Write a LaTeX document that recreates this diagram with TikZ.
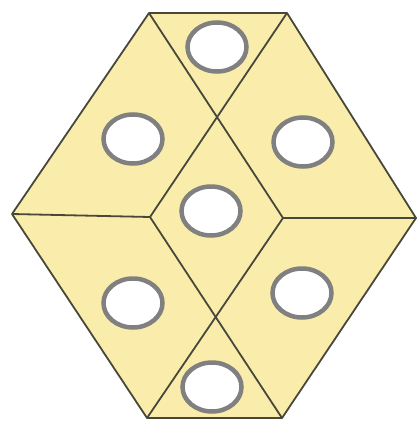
\documentclass[tikz,border=0pt]{standalone}
\definecolor{edgecol}{RGB}{72,72,58}
\definecolor{facecol}{RGB}{250,236,170}
\definecolor{ringcol}{RGB}{128,128,128}
\begin{document}
\begin{tikzpicture}[x=1pt,y=-1pt,
  edge/.style={draw=edgecol, line width=1.8pt, line join=round},
  hole/.style={draw=ringcol, fill=white, line width=4.5pt}]
\useasboundingbox (0,0) rectangle (419,423);
\coordinate (TL) at (149,13);
\coordinate (TR) at (287,13);
\coordinate (R) at (416,218);
\coordinate (BR) at (282,418);
\coordinate (BL) at (147,418);
\coordinate (L) at (12,214);
\coordinate (IL) at (150,217);
\coordinate (IR) at (283,218);
\fill[facecol] (TL) -- (TR) -- (R) -- (BR) -- (BL) -- (L) -- cycle;
\foreach \c in {(217,47),(133,139),(303,142),(211,211),(133,303),(302,293),(212,387)}
  \draw[hole] \c ellipse[x radius=29.5, y radius=24.5];
\draw[edge] (TL) -- (TR) -- (R) -- (BR) -- (BL) -- (L) -- cycle;
\draw[edge] (TL) -- (IR);
\draw[edge] (TR) -- (IL);
\draw[edge] (BL) -- (IR);
\draw[edge] (BR) -- (IL);
\draw[edge] (L) -- (IL);
\draw[edge] (IR) -- (R);
\end{tikzpicture}
\end{document}
